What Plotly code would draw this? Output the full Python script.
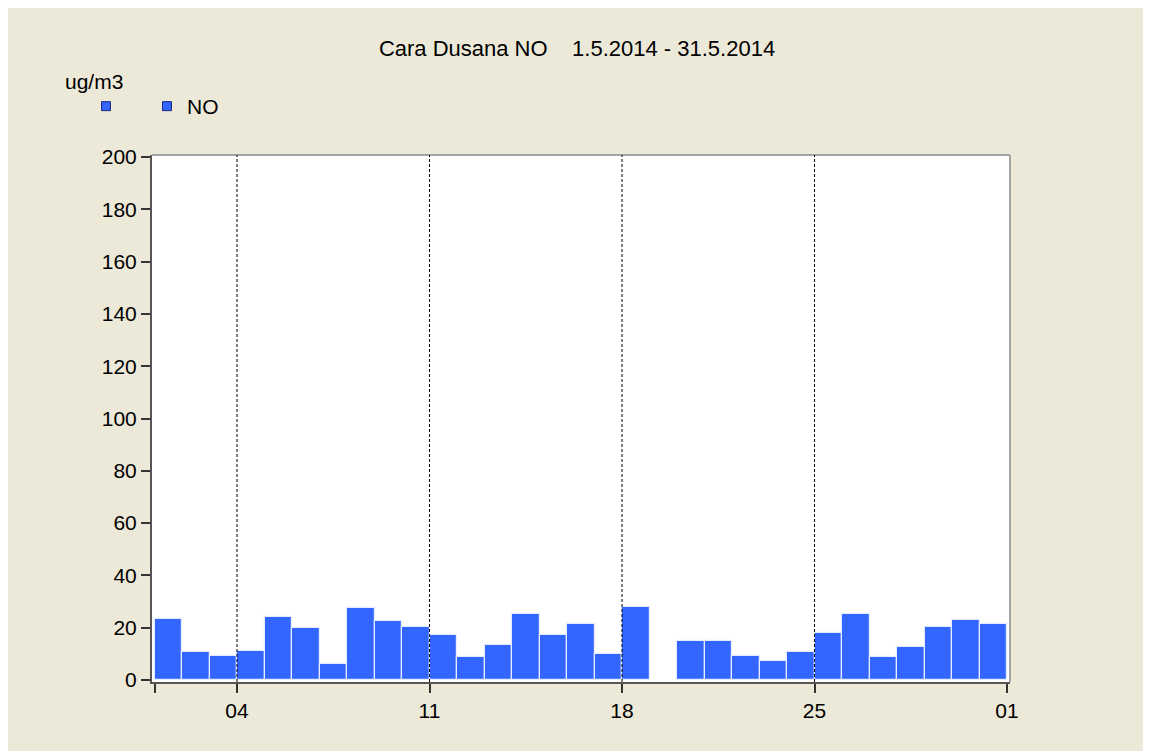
import plotly.graph_objects as go

# ---- data ----
days = [f"2014-05-{d:02d} 12:00" for d in range(1, 32)]
no_values = [23.4, 10.7, 9.2, 11.2, 24.0, 19.9, 6.0, 27.5, 22.4, 20.4, 17.2,
             8.7, 13.3, 25.1, 17.3, 21.5, 10.1, 28.0, None, 14.8, 14.8, 9.2,
             7.1, 10.7, 17.9, 25.1, 8.7, 12.7, 20.4, 22.9, 21.4]
tick_vals = ["2014-05-01", "2014-05-04", "2014-05-11", "2014-05-18",
             "2014-05-25", "2014-06-01"]
tick_text = ["", "04", "11", "18", "25", "01"]
week_lines = ["2014-05-04", "2014-05-11", "2014-05-18", "2014-05-25"]
title_text = "Cara Dusana NO    1.5.2014 - 31.5.2014"
unit_text = "ug/m3"
series_name = "NO"

BLUE = "#3366ff"
BEIGE = "#ece9d8"
FONT = "Arial, Liberation Sans, sans-serif"
FS = 21

# page has an 8px body margin; figure coords = page coords - 8
OFF = 8
W, H = 1151, 751 - OFF
L, T, B = 152 - OFF, 155 - OFF, 69
R = W - (1010 - OFF)
PW, PH = W - L - R, H - T - B


def px_x(px):  # page px -> paper fraction
    return (px - OFF - L) / PW


def px_y(py):
    return (H - B - (py - OFF)) / PH


fig = go.Figure()
fig.add_trace(go.Bar(
    x=days, y=no_values, width=86400000,
    marker=dict(color=BLUE, line=dict(color="#e4ecff", width=1.2)),
    showlegend=False, name=series_name,
))
# legend markers
fig.add_trace(go.Scatter(
    x=[None], y=[None], mode="markers", name="",
    marker=dict(symbol="square", size=9, color=BLUE,
                line=dict(color="#1a2a80", width=1)),
    legend="legend",
))
fig.add_trace(go.Scatter(
    x=[None], y=[None], mode="markers", name=series_name,
    marker=dict(symbol="square", size=9, color=BLUE,
                line=dict(color="#1a2a80", width=1)),
    legend="legend2",
))

shapes = [
    dict(type="line", xref="paper", yref="paper", x0=0, x1=1, y0=1, y1=1,
         line=dict(color="#8a8a8a", width=1.5)),
    dict(type="line", xref="paper", yref="paper", x0=1, x1=1, y0=0, y1=1,
         line=dict(color="#8a8a8a", width=1.5)),
]
for d in week_lines:
    shapes.append(dict(type="line", xref="x", yref="paper", x0=d, x1=d,
                       y0=0, y1=1, layer="above",
                       line=dict(color="black", width=1, dash="3px,2px")))

leg_top = 1 - (86 - OFF) / H
fig.update_layout(
    width=W, height=H,
    margin=dict(l=L, r=R, t=T, b=B),
    paper_bgcolor=BEIGE, plot_bgcolor="white",
    font=dict(family=FONT, size=FS, color="black"),
    title=dict(text=title_text, x=(577 - OFF) / W, xref="container",
               xanchor="center", y=1 - (48 - OFF) / H, yref="container",
               yanchor="middle",
               font=dict(family=FONT, size=22, color="black")),
    bargap=0,
    shapes=shapes,
    legend=dict(orientation="h", xref="container", yref="container",
                x=(86 - OFF) / W, y=leg_top, xanchor="left", yanchor="top",
                bgcolor="rgba(0,0,0,0)", font=dict(size=FS)),
    legend2=dict(orientation="h", xref="container", yref="container",
                 x=(147 - OFF) / W, y=leg_top, xanchor="left", yanchor="top",
                 bgcolor="rgba(0,0,0,0)", font=dict(size=FS)),
    annotations=[dict(text=unit_text, xref="paper", yref="paper",
                      x=px_x(63), y=px_y(81), xanchor="left",
                      yanchor="middle", showarrow=False,
                      font=dict(family=FONT, size=FS, color="black"))],
)
fig.update_xaxes(
    type="date", range=["2014-04-30 21:49", "2014-06-01 02:37"],
    tickmode="array", tickvals=tick_vals, ticktext=tick_text,
    ticks="outside", ticklen=9, tickwidth=1.5, tickcolor="#333333",
    showline=True, linecolor="#555555", linewidth=2,
    showgrid=False, zeroline=False,
    tickfont=dict(family=FONT, size=FS, color="black"),
)
fig.update_yaxes(
    range=[-0.76, 200.76], tickmode="linear", tick0=0, dtick=20,
    ticks="outside", ticklen=9, tickwidth=1.5, tickcolor="#333333",
    showline=True, linecolor="#555555", linewidth=2,
    showgrid=False, zeroline=False,
    tickfont=dict(family=FONT, size=FS, color="black"),
)

fig.write_html("out.html")
